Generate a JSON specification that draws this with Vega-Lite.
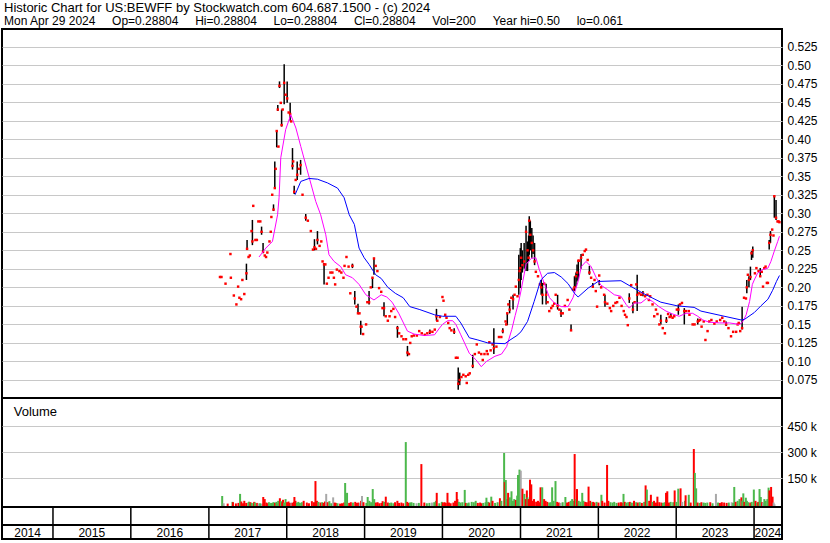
{
"$schema": "https://vega.github.io/schema/vega-lite/v6.json",
"padding": {"left": 0, "top": 2, "right": 0, "bottom": 0},
"background": "white",
"config": {"font": "Liberation Sans", "view": {"stroke": null}},
"title": {"text": "Historic Chart for US:BEWFF by Stockwatch.com 604.687.1500 - (c) 2024", "subtitle": "Mon Apr 29 2024\u00a0\u00a0\u00a0\u00a0\u00a0Op=0.28804\u00a0\u00a0\u00a0\u00a0\u00a0Hi=0.28804\u00a0\u00a0\u00a0\u00a0\u00a0Lo=0.28804\u00a0\u00a0\u00a0\u00a0\u00a0Cl=0.28804\u00a0\u00a0\u00a0\u00a0\u00a0Vol=200\u00a0\u00a0\u00a0\u00a0\u00a0Year hi=0.50\u00a0\u00a0\u00a0\u00a0\u00a0lo=0.061", "anchor": "start", "frame": "group", "font": "Liberation Sans", "fontSize": 13, "fontWeight": "normal", "color": "black", "subtitleFont": "Liberation Sans", "subtitleFontSize": 12, "subtitleColor": "black", "subtitlePadding": 1, "offset": 1, "dx": 2},
"datasets": {
"p": [
{"d":"2017-02-22","c":0.214,"v":48000,"k":"u"},
{"d":"2017-03-01","c":0.214,"v":6000,"k":"n"},
{"d":"2017-03-20","c":0.205,"v":4000,"k":"d"},
{"d":"2017-04-12","c":0.245,"v":14000,"k":"u"},
{"d":"2017-04-14","c":0.213,"v":12000,"k":"d"},
{"d":"2017-04-28","c":0.189,"v":5000,"k":"d"},
{"d":"2017-05-10","c":0.177,"v":8000,"k":"d"},
{"d":"2017-05-18","c":0.201,"v":60000,"k":"u"},
{"d":"2017-05-24","c":0.186,"v":16000,"k":"d"},
{"d":"2017-06-01","c":0.184,"v":6000,"k":"d"},
{"d":"2017-06-07","c":0.21,"v":20000,"k":"d"},
{"d":"2017-06-16","c":0.191,"v":8000,"k":"d"},
{"d":"2017-06-26","h":0.232,"l":0.21,"c":0.219,"v":10000,"k":"u"},
{"d":"2017-06-29","h":0.264,"l":0.251,"c":0.252,"v":15000,"k":"u"},
{"d":"2017-07-06","c":0.241,"v":12000,"k":"d"},
{"d":"2017-07-12","c":0.243,"v":8000,"k":"u"},
{"d":"2017-07-20","c":0.276,"v":6000,"k":"u"},
{"d":"2017-07-24","h":0.291,"l":0.257,"c":0.262,"v":14000,"k":"d"},
{"d":"2017-07-28","c":0.31,"v":10000,"k":"u"},
{"d":"2017-08-07","c":0.264,"v":8000,"k":"d"},
{"d":"2017-08-14","c":0.264,"v":5000,"k":"n"},
{"d":"2017-08-21","c":0.289,"v":6000,"k":"u"},
{"d":"2017-08-30","c":0.289,"v":4000,"k":"n"},
{"d":"2017-09-05","h":0.282,"l":0.271,"c":0.275,"v":42000,"k":"d"},
{"d":"2017-09-12","h":0.26,"l":0.246,"c":0.248,"v":30000,"k":"d"},
{"d":"2017-09-20","c":0.243,"v":10000,"k":"d"},
{"d":"2017-09-26","c":0.241,"v":6000,"k":"d"},
{"d":"2017-10-02","c":0.247,"v":12000,"k":"u"},
{"d":"2017-10-12","c":0.262,"v":8000,"k":"u"},
{"d":"2017-10-18","c":0.275,"v":6000,"k":"u"},
{"d":"2017-10-21","c":0.295,"v":10000,"k":"u"},
{"d":"2017-10-25","c":0.325,"v":12000,"k":"u"},
{"d":"2017-10-31","h":0.312,"l":0.303,"c":0.305,"v":8000,"k":"d"},
{"d":"2017-11-06","h":0.37,"l":0.335,"c":0.334,"v":14000,"k":"u"},
{"d":"2017-11-10","c":0.36,"v":6000,"k":"u"},
{"d":"2017-11-15","h":0.411,"l":0.389,"c":0.411,"v":20000,"k":"u"},
{"d":"2017-11-20","h":0.446,"l":0.438,"c":0.44,"v":10000,"k":"u"},
{"d":"2017-11-23","c":0.39,"v":35000,"k":"d"},
{"d":"2017-11-28","h":0.478,"l":0.469,"c":0.472,"v":18000,"k":"u"},
{"d":"2017-12-04","c":0.449,"v":12000,"k":"d"},
{"d":"2017-12-08","h":0.44,"l":0.417,"c":0.419,"v":26000,"k":"d"},
{"d":"2017-12-13","c":0.44,"v":10000,"k":"u"},
{"d":"2017-12-20","h":0.501,"l":0.447,"c":0.476,"v":30000,"k":"u"},
{"d":"2017-12-27","c":0.46,"v":12000,"k":"d"},
{"d":"2018-01-03","h":0.478,"l":0.449,"c":0.455,"v":16000,"k":"d"},
{"d":"2018-01-10","c":0.436,"v":8000,"k":"d"},
{"d":"2018-01-17","h":0.449,"l":0.425,"c":0.434,"v":10000,"k":"n"},
{"d":"2018-01-22","c":0.424,"v":8000,"k":"d"},
{"d":"2018-01-28","h":0.388,"l":0.359,"c":0.364,"v":14000,"k":"d"},
{"d":"2018-01-31","c":0.37,"v":42000,"k":"d"},
{"d":"2018-02-05","h":0.337,"l":0.326,"c":0.329,"v":20000,"k":"d"},
{"d":"2018-02-12","c":0.345,"v":10000,"k":"u"},
{"d":"2018-02-19","h":0.37,"l":0.345,"c":0.352,"v":14000,"k":"u"},
{"d":"2018-02-26","c":0.36,"v":8000,"k":"u"},
{"d":"2018-03-07","h":0.372,"l":0.352,"c":0.365,"v":12000,"k":"u"},
{"d":"2018-03-16","c":0.325,"v":20000,"k":"d"},
{"d":"2018-03-31","h":0.299,"l":0.29,"c":0.294,"v":10000,"k":"d"},
{"d":"2018-04-10","c":0.29,"v":6000,"k":"d"},
{"d":"2018-04-24","c":0.276,"v":18000,"k":"d"},
{"d":"2018-05-04","c":0.251,"v":12000,"k":"d"},
{"d":"2018-05-11","h":0.265,"l":0.25,"c":0.254,"v":134000,"k":"d"},
{"d":"2018-05-18","c":0.252,"v":20000,"k":"d"},
{"d":"2018-05-25","h":0.276,"l":0.258,"c":0.264,"v":14000,"k":"u"},
{"d":"2018-06-04","c":0.256,"v":10000,"k":"d"},
{"d":"2018-06-12","c":0.262,"v":12000,"k":"u"},
{"d":"2018-06-18","c":0.235,"v":8000,"k":"d"},
{"d":"2018-06-25","h":0.233,"l":0.204,"c":0.231,"v":16000,"k":"d"},
{"d":"2018-07-01","c":0.231,"v":60000,"k":"n"},
{"d":"2018-07-08","c":0.205,"v":12000,"k":"d"},
{"d":"2018-07-16","c":0.213,"v":18000,"k":"u"},
{"d":"2018-07-25","c":0.22,"v":6000,"k":"u"},
{"d":"2018-08-03","c":0.22,"v":40000,"k":"n"},
{"d":"2018-08-10","c":0.213,"v":10000,"k":"d"},
{"d":"2018-08-16","c":0.204,"v":8000,"k":"d"},
{"d":"2018-08-24","c":0.224,"v":6000,"k":"u"},
{"d":"2018-09-05","c":0.222,"v":4000,"k":"d"},
{"d":"2018-09-14","c":0.22,"v":6000,"k":"d"},
{"d":"2018-09-24","c":0.213,"v":10000,"k":"d"},
{"d":"2018-09-29","c":0.229,"v":123000,"k":"u"},
{"d":"2018-10-08","c":0.241,"v":66000,"k":"u"},
{"d":"2018-10-18","c":0.228,"v":8000,"k":"d"},
{"d":"2018-10-26","c":0.192,"v":12000,"k":"d"},
{"d":"2018-11-05","h":0.232,"l":0.226,"c":0.229,"v":10000,"k":"u"},
{"d":"2018-11-16","h":0.195,"l":0.177,"c":0.185,"v":14000,"k":"d"},
{"d":"2018-11-24","c":0.174,"v":8000,"k":"d"},
{"d":"2018-12-01","h":0.178,"l":0.165,"c":0.165,"v":10000,"k":"d"},
{"d":"2018-12-08","c":0.165,"v":6000,"k":"n"},
{"d":"2018-12-14","h":0.155,"l":0.136,"c":0.147,"v":20000,"k":"d"},
{"d":"2018-12-18","c":0.147,"v":48000,"k":"n"},
{"d":"2018-12-25","c":0.137,"v":12000,"k":"d"},
{"d":"2019-01-08","c":0.15,"v":8000,"k":"u"},
{"d":"2019-01-14","c":0.18,"v":42000,"k":"u"},
{"d":"2019-01-22","h":0.195,"l":0.177,"c":0.18,"v":20000,"k":"u"},
{"d":"2019-01-30","c":0.2,"v":12000,"k":"u"},
{"d":"2019-02-07","h":0.213,"l":0.199,"c":0.213,"v":88000,"k":"u"},
{"d":"2019-02-14","h":0.24,"l":0.217,"c":0.239,"v":30000,"k":"u"},
{"d":"2019-02-22","c":0.229,"v":10000,"k":"d"},
{"d":"2019-03-02","c":0.222,"v":12000,"k":"d"},
{"d":"2019-03-10","c":0.199,"v":6000,"k":"d"},
{"d":"2019-03-20","c":0.194,"v":8000,"k":"d"},
{"d":"2019-03-26","c":0.172,"v":18000,"k":"d"},
{"d":"2019-04-02","h":0.18,"l":0.161,"c":0.172,"v":14000,"k":"u"},
{"d":"2019-04-10","c":0.161,"v":44000,"k":"d"},
{"d":"2019-04-20","c":0.155,"v":10000,"k":"d"},
{"d":"2019-04-28","c":0.161,"v":8000,"k":"u"},
{"d":"2019-05-06","c":0.168,"v":10000,"k":"u"},
{"d":"2019-05-16","c":0.171,"v":6000,"k":"u"},
{"d":"2019-05-24","c":0.16,"v":12000,"k":"d"},
{"d":"2019-06-04","h":0.148,"l":0.132,"c":0.145,"v":20000,"k":"d"},
{"d":"2019-06-12","c":0.138,"v":8000,"k":"d"},
{"d":"2019-06-23","c":0.134,"v":10000,"k":"d"},
{"d":"2019-07-02","c":0.13,"v":6000,"k":"d"},
{"d":"2019-07-14","c":0.13,"v":359000,"k":"u"},
{"d":"2019-07-21","h":0.121,"l":0.107,"c":0.112,"v":14000,"k":"d"},
{"d":"2019-07-28","c":0.11,"v":8000,"k":"d"},
{"d":"2019-08-03","c":0.125,"v":10000,"k":"u"},
{"d":"2019-08-10","c":0.134,"v":12000,"k":"u"},
{"d":"2019-08-20","c":0.135,"v":8000,"k":"u"},
{"d":"2019-09-03","c":0.135,"v":6000,"k":"n"},
{"d":"2019-09-14","c":0.141,"v":8000,"k":"u"},
{"d":"2019-09-26","c":0.138,"v":232000,"k":"d"},
{"d":"2019-10-10","c":0.136,"v":10000,"k":"d"},
{"d":"2019-10-22","c":0.138,"v":6000,"k":"u"},
{"d":"2019-11-03","h":0.143,"l":0.137,"c":0.14,"v":8000,"k":"u"},
{"d":"2019-11-15","c":0.14,"v":10000,"k":"n"},
{"d":"2019-11-26","c":0.143,"v":12000,"k":"u"},
{"d":"2019-12-04","h":0.171,"l":0.155,"c":0.161,"v":20000,"k":"u"},
{"d":"2019-12-08","c":0.155,"v":66000,"k":"d"},
{"d":"2019-12-20","c":0.16,"v":6000,"k":"u"},
{"d":"2020-01-01","c":0.187,"v":14000,"k":"u"},
{"d":"2020-01-06","c":0.182,"v":10000,"k":"d"},
{"d":"2020-01-14","c":0.163,"v":12000,"k":"d"},
{"d":"2020-01-20","c":0.159,"v":8000,"k":"d"},
{"d":"2020-01-28","c":0.152,"v":66000,"k":"d"},
{"d":"2020-02-04","c":0.145,"v":10000,"k":"d"},
{"d":"2020-02-12","c":0.142,"v":6000,"k":"d"},
{"d":"2020-02-25","h":0.145,"l":0.137,"c":0.14,"v":10000,"k":"d"},
{"d":"2020-03-04","c":0.105,"v":20000,"k":"d"},
{"d":"2020-03-12","c":0.105,"v":71000,"k":"d"},
{"d":"2020-03-15","h":0.092,"l":0.062,"c":0.07,"v":30000,"k":"d"},
{"d":"2020-03-22","h":0.085,"l":0.068,"c":0.075,"v":14000,"k":"u"},
{"d":"2020-03-30","c":0.079,"v":10000,"k":"u"},
{"d":"2020-04-08","c":0.082,"v":12000,"k":"u"},
{"d":"2020-04-19","c":0.08,"v":83000,"k":"u"},
{"d":"2020-04-24","c":0.071,"v":8000,"k":"d"},
{"d":"2020-05-01","c":0.082,"v":6000,"k":"u"},
{"d":"2020-05-08","c":0.084,"v":10000,"k":"u"},
{"d":"2020-05-22","h":0.109,"l":0.091,"c":0.094,"v":14000,"k":"u"},
{"d":"2020-06-01","c":0.11,"v":12000,"k":"u"},
{"d":"2020-06-10","c":0.123,"v":20000,"k":"u"},
{"d":"2020-06-20","c":0.112,"v":8000,"k":"d"},
{"d":"2020-07-01","c":0.11,"v":10000,"k":"d"},
{"d":"2020-07-08","c":0.102,"v":6000,"k":"d"},
{"d":"2020-07-16","c":0.11,"v":8000,"k":"u"},
{"d":"2020-07-27","c":0.114,"v":12000,"k":"u"},
{"d":"2020-07-31","c":0.11,"v":38000,"k":"u"},
{"d":"2020-08-08","c":0.126,"v":14000,"k":"u"},
{"d":"2020-08-14","c":0.115,"v":10000,"k":"d"},
{"d":"2020-08-23","c":0.123,"v":44000,"k":"u"},
{"d":"2020-08-29","h":0.145,"l":0.11,"c":0.118,"v":20000,"k":"d"},
{"d":"2020-09-10","c":0.12,"v":8000,"k":"u"},
{"d":"2020-09-22","c":0.133,"v":12000,"k":"u"},
{"d":"2020-10-03","c":0.133,"v":35000,"k":"d"},
{"d":"2020-10-10","h":0.145,"l":0.138,"c":0.141,"v":20000,"k":"u"},
{"d":"2020-10-23","c":0.154,"v":296000,"k":"u"},
{"d":"2020-10-26","c":0.15,"v":128000,"k":"d"},
{"d":"2020-10-31","h":0.165,"l":0.149,"c":0.165,"v":140000,"k":"u"},
{"d":"2020-11-05","c":0.177,"v":30000,"k":"u"},
{"d":"2020-11-11","h":0.183,"l":0.165,"c":0.17,"v":66000,"k":"d"},
{"d":"2020-11-19","c":0.186,"v":40000,"k":"u"},
{"d":"2020-11-27","h":0.19,"l":0.17,"c":0.184,"v":75000,"k":"u"},
{"d":"2020-12-04","c":0.19,"v":20000,"k":"u"},
{"d":"2020-12-10","c":0.201,"v":30000,"k":"u"},
{"d":"2020-12-18","c":0.188,"v":25000,"k":"d"},
{"d":"2020-12-24","h":0.244,"l":0.19,"c":0.21,"v":50000,"k":"u"},
{"d":"2020-12-28","c":0.222,"v":169000,"k":"u"},
{"d":"2020-12-31","h":0.253,"l":0.199,"c":0.226,"v":40000,"k":"u"},
{"d":"2021-01-04","h":0.26,"l":0.21,"c":0.24,"v":200000,"k":"u"},
{"d":"2021-01-10","h":0.25,"l":0.22,"c":0.23,"v":194000,"k":"n"},
{"d":"2021-01-18","h":0.26,"l":0.225,"c":0.235,"v":90000,"k":"d"},
{"d":"2021-01-27","h":0.283,"l":0.222,"c":0.275,"v":60000,"k":"u"},
{"d":"2021-02-03","h":0.262,"l":0.222,"c":0.25,"v":30000,"k":"d"},
{"d":"2021-02-08","h":0.27,"l":0.235,"c":0.24,"v":80000,"k":"d"},
{"d":"2021-02-11","h":0.296,"l":0.244,"c":0.29,"v":40000,"k":"u"},
{"d":"2021-02-16","h":0.29,"l":0.25,"c":0.271,"v":30000,"k":"d"},
{"d":"2021-02-23","h":0.28,"l":0.24,"c":0.26,"v":142000,"k":"d"},
{"d":"2021-03-01","h":0.27,"l":0.245,"c":0.25,"v":115000,"k":"d"},
{"d":"2021-03-08","h":0.26,"l":0.23,"c":0.235,"v":20000,"k":"d"},
{"d":"2021-03-14","c":0.221,"v":30000,"k":"d"},
{"d":"2021-03-24","c":0.215,"v":15000,"k":"d"},
{"d":"2021-04-02","c":0.204,"v":20000,"k":"d"},
{"d":"2021-04-08","h":0.21,"l":0.19,"c":0.2,"v":12000,"k":"d"},
{"d":"2021-04-14","h":0.206,"l":0.177,"c":0.19,"v":98000,"k":"d"},
{"d":"2021-04-22","c":0.205,"v":98000,"k":"u"},
{"d":"2021-05-01","h":0.205,"l":0.177,"c":0.19,"v":30000,"k":"d"},
{"d":"2021-05-08","c":0.18,"v":20000,"k":"d"},
{"d":"2021-05-16","c":0.168,"v":14000,"k":"d"},
{"d":"2021-05-25","c":0.172,"v":10000,"k":"u"},
{"d":"2021-06-01","c":0.175,"v":12000,"k":"u"},
{"d":"2021-06-08","c":0.178,"v":98000,"k":"u"},
{"d":"2021-06-15","c":0.19,"v":20000,"k":"u"},
{"d":"2021-06-24","h":0.19,"l":0.17,"c":0.175,"v":134000,"k":"u"},
{"d":"2021-07-02","c":0.17,"v":14000,"k":"d"},
{"d":"2021-07-10","h":0.17,"l":0.16,"c":0.165,"v":10000,"k":"d"},
{"d":"2021-07-18","c":0.165,"v":8000,"k":"n"},
{"d":"2021-07-28","c":0.175,"v":12000,"k":"u"},
{"d":"2021-08-10","c":0.183,"v":42000,"k":"u"},
{"d":"2021-08-18","c":0.17,"v":10000,"k":"d"},
{"d":"2021-08-26","h":0.15,"l":0.141,"c":0.142,"v":14000,"k":"d"},
{"d":"2021-09-04","c":0.197,"v":20000,"k":"u"},
{"d":"2021-09-11","h":0.215,"l":0.195,"c":0.2,"v":30000,"k":"u"},
{"d":"2021-09-18","h":0.22,"l":0.2,"c":0.215,"v":20000,"k":"u"},
{"d":"2021-09-23","h":0.231,"l":0.208,"c":0.22,"v":290000,"k":"d"},
{"d":"2021-09-29","h":0.236,"l":0.21,"c":0.236,"v":30000,"k":"u"},
{"d":"2021-10-04","c":0.236,"v":88000,"k":"d"},
{"d":"2021-10-12","h":0.245,"l":0.225,"c":0.24,"v":20000,"k":"u"},
{"d":"2021-10-20","c":0.244,"v":15000,"k":"u"},
{"d":"2021-10-29","c":0.249,"v":66000,"k":"u"},
{"d":"2021-11-04","c":0.251,"v":20000,"k":"u"},
{"d":"2021-11-12","c":0.237,"v":14000,"k":"d"},
{"d":"2021-11-20","h":0.229,"l":0.217,"c":0.22,"v":12000,"k":"d"},
{"d":"2021-11-28","c":0.213,"v":102000,"k":"d"},
{"d":"2021-12-06","h":0.206,"l":0.199,"c":0.201,"v":20000,"k":"d"},
{"d":"2021-12-14","c":0.21,"v":12000,"k":"u"},
{"d":"2021-12-20","c":0.195,"v":14000,"k":"d"},
{"d":"2021-12-26","c":0.174,"v":10000,"k":"d"},
{"d":"2022-01-05","h":0.21,"l":0.203,"c":0.216,"v":14000,"k":"u"},
{"d":"2022-01-14","c":0.2,"v":10000,"k":"d"},
{"d":"2022-01-28","c":0.19,"v":55000,"k":"u"},
{"d":"2022-02-01","h":0.19,"l":0.174,"c":0.18,"v":20000,"k":"d"},
{"d":"2022-02-12","c":0.178,"v":10000,"k":"d"},
{"d":"2022-02-24","c":0.172,"v":227000,"k":"d"},
{"d":"2022-03-02","c":0.168,"v":20000,"k":"d"},
{"d":"2022-03-12","c":0.175,"v":12000,"k":"u"},
{"d":"2022-03-22","c":0.179,"v":10000,"k":"u"},
{"d":"2022-03-30","c":0.18,"v":14000,"k":"u"},
{"d":"2022-04-10","c":0.186,"v":8000,"k":"u"},
{"d":"2022-04-20","c":0.175,"v":10000,"k":"d"},
{"d":"2022-04-30","c":0.168,"v":12000,"k":"d"},
{"d":"2022-05-06","c":0.163,"v":10000,"k":"d"},
{"d":"2022-05-13","c":0.16,"v":60000,"k":"u"},
{"d":"2022-05-19","c":0.149,"v":14000,"k":"d"},
{"d":"2022-05-26","h":0.192,"l":0.179,"c":0.185,"v":10000,"k":"u"},
{"d":"2022-06-04","c":0.203,"v":12000,"k":"u"},
{"d":"2022-06-12","h":0.18,"l":0.165,"c":0.17,"v":14000,"k":"d"},
{"d":"2022-06-20","c":0.18,"v":10000,"k":"u"},
{"d":"2022-06-28","c":0.204,"v":8000,"k":"u"},
{"d":"2022-07-02","h":0.217,"l":0.168,"c":0.19,"v":20000,"k":"d"},
{"d":"2022-07-12","c":0.192,"v":12000,"k":"u"},
{"d":"2022-07-20","c":0.19,"v":10000,"k":"d"},
{"d":"2022-07-29","h":0.195,"l":0.188,"c":0.192,"v":12000,"k":"u"},
{"d":"2022-08-08","c":0.188,"v":8000,"k":"d"},
{"d":"2022-08-19","c":0.19,"v":14000,"k":"u"},
{"d":"2022-08-26","c":0.183,"v":109000,"k":"d"},
{"d":"2022-09-01","c":0.188,"v":85000,"k":"u"},
{"d":"2022-09-12","c":0.177,"v":20000,"k":"d"},
{"d":"2022-09-20","c":0.161,"v":55000,"k":"d"},
{"d":"2022-09-28","c":0.17,"v":14000,"k":"u"},
{"d":"2022-10-05","c":0.164,"v":20000,"k":"d"},
{"d":"2022-10-14","c":0.15,"v":10000,"k":"d"},
{"d":"2022-10-21","h":0.163,"l":0.15,"c":0.155,"v":44000,"k":"d"},
{"d":"2022-10-30","c":0.145,"v":12000,"k":"d"},
{"d":"2022-11-09","c":0.138,"v":10000,"k":"d"},
{"d":"2022-11-16","h":0.16,"l":0.152,"c":0.155,"v":8000,"k":"u"},
{"d":"2022-11-24","c":0.164,"v":12000,"k":"u"},
{"d":"2022-12-01","c":0.16,"v":66000,"k":"d"},
{"d":"2022-12-07","h":0.165,"l":0.16,"c":0.161,"v":75000,"k":"d"},
{"d":"2022-12-15","c":0.159,"v":10000,"k":"d"},
{"d":"2022-12-23","c":0.161,"v":14000,"k":"u"},
{"d":"2023-01-04","c":0.17,"v":12000,"k":"u"},
{"d":"2023-01-11","h":0.177,"l":0.163,"c":0.17,"v":80000,"k":"d"},
{"d":"2023-01-19","c":0.177,"v":14000,"k":"u"},
{"d":"2023-01-28","c":0.179,"v":90000,"k":"u"},
{"d":"2023-02-08","h":0.172,"l":0.15,"c":0.168,"v":92000,"k":"d"},
{"d":"2023-02-16","c":0.168,"v":14000,"k":"n"},
{"d":"2023-03-01","c":0.168,"v":20000,"k":"u"},
{"d":"2023-03-04","c":0.163,"v":52000,"k":"d"},
{"d":"2023-03-19","c":0.15,"v":55000,"k":"u"},
{"d":"2023-03-28","c":0.15,"v":10000,"k":"d"},
{"d":"2023-04-12","h":0.158,"l":0.15,"c":0.154,"v":319000,"k":"d"},
{"d":"2023-04-17","c":0.155,"v":181000,"k":"u"},
{"d":"2023-04-23","c":0.156,"v":92000,"k":"u"},
{"d":"2023-04-30","c":0.147,"v":10000,"k":"d"},
{"d":"2023-05-10","c":0.154,"v":8000,"k":"u"},
{"d":"2023-05-18","c":0.129,"v":12000,"k":"d"},
{"d":"2023-05-28","c":0.141,"v":10000,"k":"u"},
{"d":"2023-06-05","c":0.154,"v":8000,"k":"u"},
{"d":"2023-06-15","c":0.156,"v":10000,"k":"u"},
{"d":"2023-06-29","c":0.151,"v":12000,"k":"d"},
{"d":"2023-07-10","c":0.154,"v":6000,"k":"u"},
{"d":"2023-07-26","c":0.156,"v":60000,"k":"n"},
{"d":"2023-08-05","c":0.159,"v":10000,"k":"u"},
{"d":"2023-08-14","c":0.154,"v":8000,"k":"d"},
{"d":"2023-08-23","h":0.154,"l":0.148,"c":0.15,"v":12000,"k":"d"},
{"d":"2023-09-03","c":0.145,"v":10000,"k":"d"},
{"d":"2023-09-15","c":0.134,"v":8000,"k":"d"},
{"d":"2023-09-25","c":0.14,"v":10000,"k":"u"},
{"d":"2023-10-09","c":0.14,"v":12000,"k":"n"},
{"d":"2023-10-16","c":0.15,"v":8000,"k":"u"},
{"d":"2023-10-21","c":0.152,"v":100000,"k":"u"},
{"d":"2023-10-28","c":0.141,"v":14000,"k":"d"},
{"d":"2023-11-06","h":0.174,"l":0.143,"c":0.145,"v":20000,"k":"u"},
{"d":"2023-11-15","c":0.186,"v":30000,"k":"u"},
{"d":"2023-11-24","c":0.185,"v":40000,"k":"d"},
{"d":"2023-11-28","h":0.21,"l":0.192,"c":0.2,"v":20000,"k":"u"},
{"d":"2023-12-03","c":0.217,"v":63000,"k":"u"},
{"d":"2023-12-08","h":0.215,"l":0.2,"c":0.21,"v":14000,"k":"d"},
{"d":"2023-12-15","h":0.228,"l":0.21,"c":0.214,"v":38000,"k":"u"},
{"d":"2023-12-20","h":0.249,"l":0.237,"c":0.246,"v":20000,"k":"u"},
{"d":"2023-12-26","h":0.255,"l":0.24,"c":0.25,"v":12000,"k":"u"},
{"d":"2024-01-05","c":0.219,"v":10000,"k":"d"},
{"d":"2024-01-12","c":0.226,"v":14000,"k":"u"},
{"d":"2024-01-22","c":0.222,"v":85000,"k":"u"},
{"d":"2024-01-30","h":0.226,"l":0.215,"c":0.215,"v":20000,"k":"d"},
{"d":"2024-02-06","c":0.221,"v":10000,"k":"u"},
{"d":"2024-02-12","c":0.201,"v":14000,"k":"d"},
{"d":"2024-02-18","c":0.226,"v":88000,"k":"u"},
{"d":"2024-02-24","c":0.228,"v":42000,"k":"u"},
{"d":"2024-03-01","c":0.206,"v":12000,"k":"d"},
{"d":"2024-03-06","c":0.206,"v":10000,"k":"n"},
{"d":"2024-03-12","h":0.264,"l":0.251,"c":0.26,"v":30000,"k":"u"},
{"d":"2024-03-18","h":0.276,"l":0.26,"c":0.271,"v":20000,"k":"u"},
{"d":"2024-03-26","c":0.278,"v":30000,"k":"u"},
{"d":"2024-04-01","c":0.27,"v":96000,"k":"u"},
{"d":"2024-04-05","h":0.323,"l":0.294,"c":0.323,"v":80000,"k":"d"},
{"d":"2024-04-13","h":0.318,"l":0.291,"c":0.294,"v":100000,"k":"d"},
{"d":"2024-04-20","c":0.289,"v":44000,"k":"d"},
{"d":"2024-04-25","c":0.289,"v":10000,"k":"n"},
{"d":"2024-04-29","c":0.288,"v":200,"k":"n"}
],
"m1": [
{"d":"2017-08-24","m":0.241},{"d":"2017-09-25","m":0.253},{"d":"2017-10-26","m":0.262},{"d":"2017-11-19","m":0.298},{"d":"2017-11-26","m":0.321},{"d":"2017-12-04","m":0.375},{"d":"2017-12-27","m":0.413},{"d":"2018-01-20","m":0.433},{"d":"2018-02-13","m":0.415},{"d":"2018-03-08","m":0.39},{"d":"2018-04-08","m":0.357},{"d":"2018-05-17","m":0.316},{"d":"2018-06-09","m":0.298},{"d":"2018-07-03","m":0.271},{"d":"2018-07-18","m":0.244},{"d":"2018-08-11","m":0.235},{"d":"2018-09-11","m":0.228},{"d":"2018-10-04","m":0.217},{"d":"2018-11-05","m":0.213},{"d":"2018-12-06","m":0.204},{"d":"2019-01-07","m":0.19},{"d":"2019-02-14","m":0.183},{"d":"2019-03-20","m":0.19},{"d":"2019-04-15","m":0.187},{"d":"2019-05-10","m":0.18},{"d":"2019-06-10","m":0.165},{"d":"2019-07-21","m":0.141},{"d":"2019-08-21","m":0.137},{"d":"2019-10-08","m":0.135},{"d":"2019-11-25","m":0.136},{"d":"2019-12-18","m":0.145},{"d":"2020-01-01","m":0.15},{"d":"2020-01-25","m":0.155},{"d":"2020-02-18","m":0.155},{"d":"2020-03-04","m":0.15},{"d":"2020-03-27","m":0.136},{"d":"2020-05-06","m":0.111},{"d":"2020-06-07","m":0.102},{"d":"2020-07-01","m":0.093},{"d":"2020-07-25","m":0.1},{"d":"2020-09-03","m":0.107},{"d":"2020-10-04","m":0.11},{"d":"2020-10-28","m":0.12},{"d":"2020-11-21","m":0.143},{"d":"2020-12-07","m":0.162},{"d":"2020-12-23","m":0.18},{"d":"2021-01-03","m":0.195},{"d":"2021-01-27","m":0.231},{"d":"2021-02-20","m":0.239},{"d":"2021-03-14","m":0.24},{"d":"2021-03-30","m":0.224},{"d":"2021-04-24","m":0.204},{"d":"2021-05-17","m":0.186},{"d":"2021-06-09","m":0.179},{"d":"2021-07-11","m":0.174},{"d":"2021-08-12","m":0.174},{"d":"2021-09-04","m":0.186},{"d":"2021-09-28","m":0.208},{"d":"2021-10-13","m":0.228},{"d":"2021-11-04","m":0.235},{"d":"2021-11-28","m":0.228},{"d":"2021-12-22","m":0.213},{"d":"2022-01-13","m":0.203},{"d":"2022-02-13","m":0.197},{"d":"2022-03-17","m":0.19},{"d":"2022-04-17","m":0.188},{"d":"2022-05-11","m":0.177},{"d":"2022-05-26","m":0.172},{"d":"2022-06-19","m":0.179},{"d":"2022-07-20","m":0.179},{"d":"2022-08-15","m":0.185},{"d":"2022-09-12","m":0.181},{"d":"2022-10-12","m":0.174},{"d":"2022-11-14","m":0.168},{"d":"2022-12-16","m":0.164},{"d":"2023-01-15","m":0.161},{"d":"2023-02-16","m":0.165},{"d":"2023-03-19","m":0.165},{"d":"2023-04-12","m":0.161},{"d":"2023-05-06","m":0.156},{"d":"2023-06-05","m":0.153},{"d":"2023-07-23","m":0.152},{"d":"2023-09-08","m":0.152},{"d":"2023-10-25","m":0.15},{"d":"2023-11-10","m":0.154},{"d":"2023-11-25","m":0.163},{"d":"2023-12-11","m":0.181},{"d":"2023-12-24","m":0.204},{"d":"2024-01-02","m":0.21},{"d":"2024-01-17","m":0.219},{"d":"2024-02-10","m":0.224},{"d":"2024-03-06","m":0.226},{"d":"2024-03-20","m":0.235},{"d":"2024-04-05","m":0.249},{"d":"2024-04-21","m":0.262},{"d":"2024-04-29","m":0.269}
],
"m2": [
{"d":"2018-02-09","m":0.325},{"d":"2018-03-08","m":0.343},{"d":"2018-04-16","m":0.347},{"d":"2018-05-25","m":0.346},{"d":"2018-07-11","m":0.341},{"d":"2018-08-27","m":0.334},{"d":"2018-09-27","m":0.321},{"d":"2018-10-21","m":0.298},{"d":"2018-11-14","m":0.285},{"d":"2018-12-06","m":0.253},{"d":"2018-12-30","m":0.24},{"d":"2019-01-22","m":0.231},{"d":"2019-02-22","m":0.217},{"d":"2019-03-20","m":0.212},{"d":"2019-04-20","m":0.2},{"d":"2019-05-25","m":0.192},{"d":"2019-07-01","m":0.186},{"d":"2019-08-01","m":0.174},{"d":"2019-09-17","m":0.17},{"d":"2019-11-25","m":0.163},{"d":"2020-01-01","m":0.161},{"d":"2020-03-04","m":0.161},{"d":"2020-03-27","m":0.152},{"d":"2020-05-06","m":0.132},{"d":"2020-06-15","m":0.129},{"d":"2020-08-01","m":0.125},{"d":"2020-10-20","m":0.124},{"d":"2020-11-13","m":0.129},{"d":"2020-12-15","m":0.135},{"d":"2021-01-03","m":0.14},{"d":"2021-02-03","m":0.154},{"d":"2021-03-06","m":0.181},{"d":"2021-04-06","m":0.21},{"d":"2021-05-08","m":0.219},{"d":"2021-06-09","m":0.22},{"d":"2021-07-11","m":0.214},{"d":"2021-08-12","m":0.205},{"d":"2021-09-11","m":0.192},{"d":"2021-09-28","m":0.187},{"d":"2021-11-14","m":0.199},{"d":"2021-12-31","m":0.208},{"d":"2022-04-17","m":0.209},{"d":"2022-06-04","m":0.201},{"d":"2022-08-05","m":0.191},{"d":"2022-10-21","m":0.18},{"d":"2023-01-07","m":0.175},{"d":"2023-03-26","m":0.173},{"d":"2023-04-27","m":0.168},{"d":"2023-07-30","m":0.162},{"d":"2023-11-02","m":0.156},{"d":"2023-11-18","m":0.157},{"d":"2024-01-02","m":0.166},{"d":"2024-02-02","m":0.175},{"d":"2024-03-06","m":0.184},{"d":"2024-03-28","m":0.196},{"d":"2024-04-15","m":0.208},{"d":"2024-04-29","m":0.216}
],
"yb": [{"d":"2015-01-01"},{"d":"2016-01-01"},{"d":"2017-01-01"},{"d":"2018-01-01"},{"d":"2019-01-01"},{"d":"2020-01-01"},{"d":"2021-01-01"},{"d":"2022-01-01"},{"d":"2023-01-01"},{"d":"2024-01-01"}],
"yl": [{"d":"2014-09-04","t":"2014"},{"d":"2015-07-02","t":"2015"},{"d":"2016-07-02","t":"2016"},{"d":"2017-07-02","t":"2017"},{"d":"2018-07-02","t":"2018"},{"d":"2019-07-02","t":"2019"},{"d":"2020-07-02","t":"2020"},{"d":"2021-07-02","t":"2021"},{"d":"2022-07-02","t":"2022"},{"d":"2023-07-02","t":"2023"},{"d":"2024-03-06","t":"2024"}]
},
"spacing": 0,
"bounds": "flush",
"vconcat": [
{
"width": 780, "height": 369,
"view": {"stroke": "black", "strokeWidth": 2},
"encoding": {"x": {"field": "d", "type": "temporal", "title": null,
  "scale": {"domain": [{"year":2014,"month":5,"date":7},{"year":2024,"month":5,"date":11}]},
  "axis": {"values": [{"year":2015,"month":1,"date":1},{"year":2016,"month":1,"date":1},{"year":2017,"month":1,"date":1},{"year":2018,"month":1,"date":1},{"year":2019,"month":1,"date":1},{"year":2020,"month":1,"date":1},{"year":2021,"month":1,"date":1},{"year":2022,"month":1,"date":1},{"year":2023,"month":1,"date":1},{"year":2024,"month":1,"date":1}], "tickCount": 30, "labels": false, "ticks": false, "domain": false, "grid": true, "gridColor": "#c8c8c8", "gridWidth": 1, "title": null}}},
"layer": [
{"data": {"name": "p"}, "mark": {"type": "rule", "color": "black", "strokeWidth": 1.5},
 "encoding": {"y": {"field": "h", "type": "quantitative", "title": null,
   "scale": {"domain": [0.0507, 0.5487], "nice": false, "zero": false},
   "axis": {"orient": "right", "values": [0.075,0.1,0.125,0.15,0.175,0.2,0.225,0.25,0.275,0.3,0.325,0.35,0.375,0.4,0.425,0.45,0.475,0.5,0.525], "tickCount": 40, "grid": true, "gridColor": "#c8c8c8", "gridWidth": 1, "ticks": false, "domain": false, "labelPadding": 5, "labelFont": "Liberation Sans", "labelFontSize": 12, "labelColor": "black", "labelOverlap": false, "title": null,
     "labelExpr": "length(format(datum.value,'.3~f')) < 5 ? format(datum.value,'.2f') : format(datum.value,'.3f')"}},
   "y2": {"field": "l"}}},
{"data": {"name": "p"}, "mark": {"type": "square", "size": 6, "color": "#ff0000", "opacity": 1},
 "encoding": {"y": {"field": "c", "type": "quantitative", "title": null}}},
{"data": {"name": "m1"}, "mark": {"type": "line", "color": "#ff00ff", "strokeWidth": 1},
 "encoding": {"y": {"field": "m", "type": "quantitative", "title": null}}},
{"data": {"name": "m2"}, "mark": {"type": "line", "color": "#0000ff", "strokeWidth": 1},
 "encoding": {"y": {"field": "m", "type": "quantitative", "title": null}}},
{"data": {"values": [{}]}, "mark": {"type": "text", "align": "left", "baseline": "middle", "font": "Liberation Sans", "fontSize": 13, "color": "black"},
 "encoding": {"x": {"datum": {"year":2014,"month":6,"date":8}, "type": "temporal", "axis": null}, "y": {"datum": 0.534, "type": "quantitative"}, "text": {"value": "US:BEWFF"}}}
]
},
{
"width": 780, "height": 109,
"view": {"stroke": "black", "strokeWidth": 2},
"layer": [
{"data": {"name": "p"}, "mark": {"type": "bar", "width": 2},
 "encoding": {
   "x": {"field": "d", "type": "temporal", "title": null,
     "scale": {"domain": [{"year":2014,"month":5,"date":7},{"year":2024,"month":5,"date":11}]},
     "axis": {"values": [{"year":2015,"month":1,"date":1},{"year":2016,"month":1,"date":1},{"year":2017,"month":1,"date":1},{"year":2018,"month":1,"date":1},{"year":2019,"month":1,"date":1},{"year":2020,"month":1,"date":1},{"year":2021,"month":1,"date":1},{"year":2022,"month":1,"date":1},{"year":2023,"month":1,"date":1},{"year":2024,"month":1,"date":1}], "tickCount": 30, "labels": false, "ticks": false, "domain": false, "grid": true, "gridColor": "#c8c8c8", "gridWidth": 1, "title": null}},
   "y": {"field": "v", "type": "quantitative", "title": null,
     "scale": {"domain": [-15600, 613300], "nice": false, "zero": false},
     "axis": {"orient": "right", "values": [150000, 300000, 450000], "tickCount": 10, "grid": true, "gridColor": "#c8c8c8", "gridWidth": 1, "ticks": false, "domain": false, "labelPadding": 5, "labelFont": "Liberation Sans", "labelFontSize": 12, "labelColor": "black", "title": null, "labelExpr": "format(datum.value/1000,'d') + ' k'"}},
   "y2": {"datum": -15600},
   "color": {"field": "k", "type": "nominal", "scale": {"domain": ["u","d","n"], "range": ["#4cb84c","#ff0000","#a8a8a8"]}, "legend": null}}},
{"data": {"values": [{}]}, "mark": {"type": "text", "align": "left", "baseline": "middle", "font": "Liberation Sans", "fontSize": 13, "color": "black"},
 "encoding": {"x": {"datum": {"year":2014,"month":6,"date":8}, "type": "temporal", "axis": null}, "y": {"datum": 530000, "type": "quantitative"}, "text": {"value": "Volume"}}}
]
},
{
"width": 780, "height": 32,
"view": {"stroke": "black", "strokeWidth": 2},
"layer": [
{"data": {"name": "yb"}, "mark": {"type": "rule", "color": "black", "strokeWidth": 1.5},
 "encoding": {"x": {"field": "d", "type": "temporal", "axis": null, "scale": {"domain": [{"year":2014,"month":5,"date":7},{"year":2024,"month":5,"date":11}]}}}},
{"data": {"values": [{}]}, "mark": {"type": "rule", "color": "black", "strokeWidth": 2},
 "encoding": {"y": {"datum": 0.44, "type": "quantitative", "scale": {"domain": [0, 1]}, "axis": null}}},
{"data": {"name": "yl"}, "mark": {"type": "text", "baseline": "middle", "align": "center", "font": "Liberation Sans", "fontSize": 12, "color": "black"},
 "encoding": {"x": {"field": "d", "type": "temporal", "axis": null}, "y": {"datum": 0.2, "type": "quantitative", "axis": null}, "text": {"field": "t"}}}
]
}
]
}
